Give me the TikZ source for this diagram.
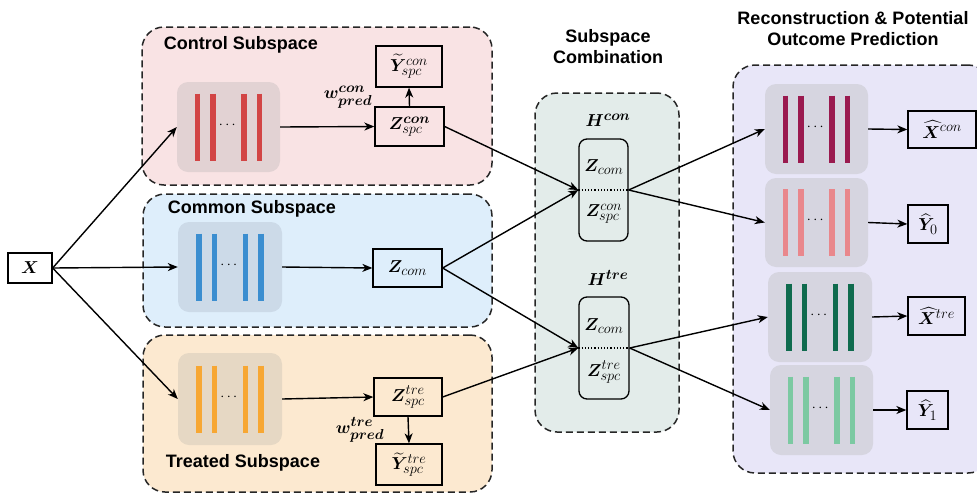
\documentclass[tikz,border=0pt]{standalone}
\usepackage{amsmath,bm}
\usepackage{fontspec}
\setmainfont{Liberation Sans}
\usetikzlibrary{arrows.meta}
\DeclareMathSizes{17}{17}{13.5}{11}
\definecolor{ctrlfill}{HTML}{F9E3E4}
\definecolor{comfill}{HTML}{DEEEFB}
\definecolor{trefill}{HTML}{FCE9D0}
\definecolor{combfill}{HTML}{E3ECEA}
\definecolor{recfill}{HTML}{E8E6F8}
\definecolor{ctrlenc}{HTML}{E2D2D3}
\definecolor{comenc}{HTML}{CCDAE8}
\definecolor{treenc}{HTML}{E6D8C4}
\definecolor{decbg}{HTML}{D6D5E0}
\definecolor{barred}{HTML}{D24545}
\definecolor{barblue}{HTML}{3B8ED0}
\definecolor{barorange}{HTML}{F7A733}
\definecolor{barmag}{HTML}{9A1A4F}
\definecolor{barpink}{HTML}{E9878C}
\definecolor{bardgreen}{HTML}{0F6B4E}
\definecolor{barlgreen}{HTML}{7CC9A2}
\newcommand{\encblock}[7]{%
  \node[encbox, fill=#4, minimum width=#6pt, minimum height=#7pt] (#1) at (#2,#3) {};
  \foreach \dx in {-31,-15.5,15.5,31}
    \draw[line width=5.5pt, #5] ([xshift=\dx pt, yshift=33.5pt]#1.center) -- ([xshift=\dx pt, yshift=-33.5pt]#1.center);
  \node[font=\fontsize{14}{16}\selectfont] at ([yshift=2pt]#1.center) {$\cdots$};
}
\begin{document}
\begin{tikzpicture}[x=1pt,y=-1pt,
  region/.style={draw=black!85, line width=1.5pt, dash pattern=on 7pt off 4pt, rounded corners=22pt, inner sep=0pt},
  encbox/.style={rounded corners=11pt, inner sep=0pt},
  vbox/.style={draw, line width=1.3pt, inner sep=0pt, font=\fontsize{17}{20}\selectfont},
  hbox/.style={draw, line width=1.3pt, rounded corners=8pt, inner sep=0pt},
  title/.style={font=\fontsize{18}{21}\bfseries\selectfont, align=center},
  mlabel/.style={font=\fontsize{17}{20}\selectfont, inner sep=0pt},
  arr/.style={-{Stealth[length=10pt,width=8pt,inset=3pt]}, line width=1.4pt}]
\useasboundingbox (0,0) rectangle (977,496);

% regions
\node[region, fill=ctrlfill, minimum width=350pt, minimum height=158pt] (ctrl) at (317,106) {};
\node[region, fill=comfill, minimum width=349pt, minimum height=133pt] (comm) at (317.5,260.5) {};
\node[region, fill=trefill, minimum width=349pt, minimum height=157pt] (trt) at (317.5,413.5) {};
\node[region, fill=combfill, minimum width=144pt, minimum height=339pt] (comb) at (607,262.5) {};
\node[region, fill=recfill, minimum width=257pt, minimum height=408pt] (rec) at (861.5,269) {};

% titles
\node[title] (tctrl) at (241,45) {Control Subspace};
\node[title] (tcom) at (252,209) {Common Subspace};
\node[title] (ttre) at (243,463) {Treated Subspace};
\node[title] (tcomb) at (608,47) {Subspace\\Combination};
\node[title] (trec) at (853,29) {Reconstruction \& Potential\\Outcome Prediction};

% encoders
\encblock{ec}{228.5}{127}{ctrlenc}{barred}{103}{90}
\encblock{ecom}{230}{267}{comenc}{barblue}{104}{90}
\encblock{et}{230}{399}{treenc}{barorange}{104}{92}

% decoders
\encblock{d1}{816.5}{129}{decbg}{barmag}{103}{90}
\encblock{d2}{816.5}{222.5}{decbg}{barpink}{103}{89}
\encblock{d3}{820}{317}{decbg}{bardgreen}{104}{90}
\encblock{d4}{821.5}{410}{decbg}{barlgreen}{103}{90}

% small boxes
\node[vbox, minimum width=44pt, minimum height=30pt] (x) at (30,268) {$\bm{X}$};
\node[vbox, minimum width=69pt, minimum height=39pt] (zcon) at (409.5,126.5) {$\bm{Z}^{\bm{con}}_{spc}$};
\node[vbox, minimum width=66pt, minimum height=41pt] (ycon) at (409,66.5) {$\widetilde{\bm{Y}}^{con}_{spc}$};
\node[vbox, minimum width=69pt, minimum height=38pt] (zcom) at (407.5,268) {$\bm{Z}_{com}$};
\node[vbox, minimum width=68pt, minimum height=38pt] (ztre) at (408,397) {$\bm{Z}^{tre}_{spc}$};
\node[vbox, minimum width=66pt, minimum height=41pt] (ytre) at (409,464.5) {$\widetilde{\bm{Y}}^{tre}_{spc}$};
\node[vbox, minimum width=68pt, minimum height=37pt] (xcon) at (942,129.5) {$\widehat{\bm{X}}^{con}$};
\node[vbox, minimum width=40pt, minimum height=38pt] (y0) at (928,224) {$\widehat{\bm{Y}}_0$};
\node[vbox, minimum width=57pt, minimum height=38pt] (xtre) at (936.5,316) {$\widehat{\bm{X}}^{tre}$};
\node[vbox, minimum width=41pt, minimum height=38pt] (y1) at (927.5,410) {$\widehat{\bm{Y}}_1$};

% combination boxes
\node[hbox, minimum width=49pt, minimum height=102pt] (h1) at (603.5,190) {};
\node[hbox, minimum width=50pt, minimum height=102pt] (h2) at (604,348) {};
\draw[line width=1.2pt, dotted] (h1.west) -- (h1.east);
\draw[line width=1.2pt, dotted] (h2.west) -- (h2.east);
\node[mlabel] (h1a) at (604,167) {$\bm{Z}_{com}$};
\node[mlabel] (h1b) at (604,214) {$\bm{Z}^{con}_{spc}$};
\node[mlabel] (h2a) at (604,326) {$\bm{Z}_{com}$};
\node[mlabel] (h2b) at (604,372) {$\bm{Z}^{tre}_{spc}$};
\node[mlabel] (hcon) at (608,120) {$\bm{H}^{\bm{con}}$};
\node[mlabel] (htre) at (608,278) {$\bm{H}^{\bm{tre}}$};

% w labels
\node[mlabel] (wcon) at (348,97) {$\bm{w}^{\bm{con}}_{\bm{pred}}$};
\node[mlabel] (wtre) at (360,430) {$\bm{w}^{\bm{tre}}_{\bm{pred}}$};

% connectors
\draw[arr] (x.east) -- (ec.west);
\draw[arr] (x.east) -- (ecom.west);
\draw[arr] (x.east) -- (et.west);
\draw[arr] (ec.east) -- (zcon.west);
\draw[arr] (zcon.north) -- (ycon.south);
\draw[arr] (ecom.east) -- (zcom.west);
\draw[arr] (et.east) -- (ztre.west);
\draw[arr] (ztre.south) -- (ytre.north);
\draw[arr] (zcon.east) -- (h1.west);
\draw[arr] (zcom.east) -- (h1.west);
\draw[arr] (zcom.east) -- (h2.west);
\draw[arr] (ztre.east) -- (h2.west);
\draw[arr] (h1.east) -- (d1.west);
\draw[arr] (h1.east) -- (d2.west);
\draw[arr] (h2.east) -- (d3.west);
\draw[arr] (h2.east) -- (d4.west);
\draw[arr] (d1.east) -- (xcon.west);
\draw[arr] (d2.east) -- (y0.west);
\draw[arr] (d3.east) -- (xtre.west);
\draw[arr] (d4.east) -- (y1.west);
\end{tikzpicture}
\end{document}
